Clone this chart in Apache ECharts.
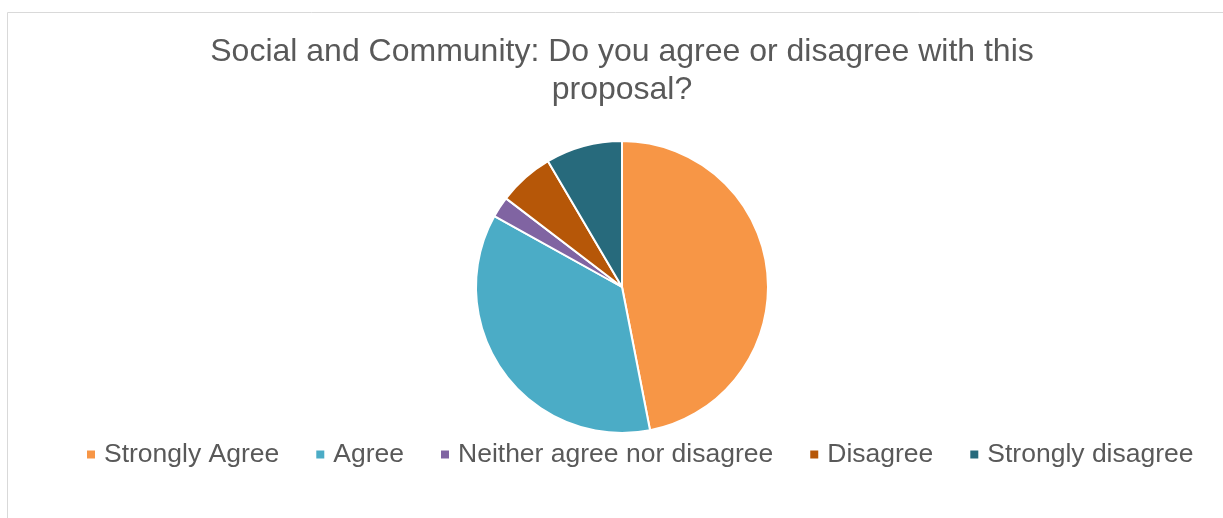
<!DOCTYPE html>
<html>
<head>
<meta charset="utf-8">
<script src="https://cdn.jsdelivr.net/npm/echarts@6/dist/echarts.min.js"></script>
<style>
html,body{margin:0;padding:0;background:#fff;}
#c{width:1223px;height:518px;}
</style>
</head>
<body>
<div id="c"></div>
<script>
const titleText = 'Social and Community: Do you agree or disagree with this\nproposal?';
const categories = ['Strongly Agree', 'Agree', 'Neither agree nor disagree', 'Disagree', 'Strongly disagree'];
const values = [61, 47, 3, 8, 11];
const colors = ['#F79646', '#4BACC6', '#8064A2', '#B65708', '#276A7C'];

const chart = echarts.init(document.getElementById('c'), null, {renderer: 'canvas'});
chart.setOption({
  animation: false,
  color: colors,
  title: {
    text: titleText,
    left: 617,
    textAlign: 'center',
    top: 28,
    textStyle: {
      fontFamily: 'Liberation Sans, Arial, sans-serif',
      fontSize: 32,
      fontWeight: 'normal',
      color: '#595959',
      lineHeight: 38
    }
  },
  legend: {
    data: categories,
    left: 80,
    top: 436,
    icon: 'rect',
    itemWidth: 10,
    itemHeight: 10,
    itemGap: 35,
    textStyle: {
      fontFamily: 'Liberation Sans, Arial, sans-serif',
      fontSize: 26.5,
      color: '#595959',
      padding: [0, 0, 0, 3]
    }
  },
  graphic: [{
    type: 'polyline',
    shape: {points: [[7.5, 518], [7.5, 12.5], [1223, 12.5]]},
    style: {stroke: '#D9D9D9', lineWidth: 1, fill: null},
    silent: true
  }],
  series: [{
    type: 'pie',
    center: [622, 287],
    radius: 146,
    startAngle: 90,
    clockwise: true,
    label: {show: false},
    labelLine: {show: false},
    itemStyle: {borderColor: '#fff', borderWidth: 2},
    data: categories.map((n, i) => ({name: n, value: values[i]}))
  }]
});
</script>
</body>
</html>
